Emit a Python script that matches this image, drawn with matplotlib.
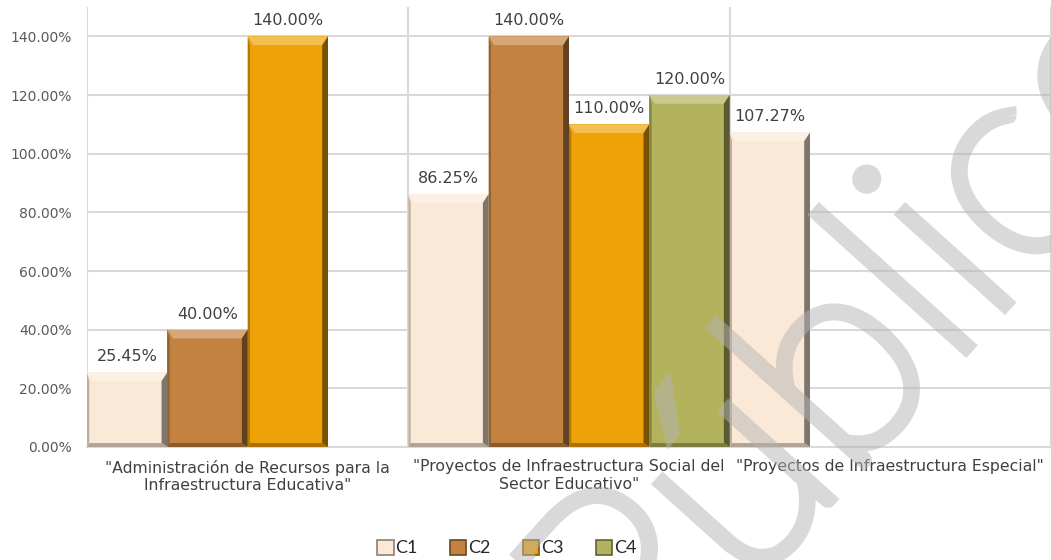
import numpy as np
import matplotlib
matplotlib.use('Agg')
import matplotlib.pyplot as plt
import matplotlib.patheffects as pe
from matplotlib.patches import Polygon, Rectangle
from matplotlib.colors import to_rgb

categories = ['"Administración de Recursos para la\nInfraestructura Educativa"',
              '"Proyectos de Infraestructura Social del\nSector Educativo"',
              '"Proyectos de Infraestructura Especial"']
series = ['C1', 'C2', 'C3', 'C4']
c1 = [0.2545, 0.8625, 1.0727]
c2 = [0.40, 1.40, np.nan]
c3 = [1.40, 1.10, np.nan]
c4 = [np.nan, 1.20, np.nan]
yticks = [0.0, 0.2, 0.4, 0.6, 0.8, 1.0, 1.2, 1.4]

COLORS = ['#FBE9D8', '#C3823F', '#EEA208', '#B3B25D']
GRID = '#d9d9d9'


def mix(c, other, t):
    c = np.array(to_rgb(c))
    o = np.array(to_rgb(other))
    return tuple(c * (1 - t) + o * t)


def bevel(ax, rect, color, dx, dy):
    # fake the excel "bevel" look from the bar geometry
    x0, y0 = rect.get_x(), rect.get_y()
    x1, y1 = x0 + rect.get_width(), y0 + rect.get_height()
    if rect.get_height() <= 0:
        return
    dy = min(dy, rect.get_height() / 3)
    db = dy * 0.45
    faces = [
        ([(x0, y1), (x1, y1), (x1 - dx, y1 - dy), (x0 + dx, y1 - dy)], mix(color, 'white', 0.3)),
        ([(x1, y1), (x1, y0), (x1 - dx, y0 + db), (x1 - dx, y1 - dy)], mix(color, 'black', 0.5)),
        ([(x0, y1), (x0, y0), (x0 + dx * 0.4, y0 + db), (x0 + dx * 0.4, y1 - dy)], mix(color, 'black', 0.25)),
        ([(x0, y0), (x1, y0), (x1 - dx, y0 + db), (x0 + dx * 0.4, y0 + db)], mix(color, 'black', 0.3)),
    ]
    for pts, fc in faces:
        ax.add_patch(Polygon(pts, closed=True, facecolor=fc, edgecolor='none', zorder=3))


def fade(img, dpi):
    # make the opaque watermark see-through, like the original
    img = img.copy()
    img[..., 3] *= 0.5
    return img, 0, 0


fig = plt.figure(figsize=(10.51, 5.60), dpi=100)
ax = fig.add_axes([87 / 1051, 1 - 447 / 560, 1 - 87 / 1051, 440 / 560])

x = np.arange(len(categories))
W = 0.25
data = [c1, c2, c3, c4]
for i, vals in enumerate(data):
    vals = np.array(vals, dtype=float)
    bars = ax.bar(x + (i - 1.5) * W, np.nan_to_num(vals), W, color=COLORS[i],
                  edgecolor='none', zorder=2)
    for b, v in zip(bars, vals):
        if np.isnan(v):
            continue
        bevel(ax, b, COLORS[i], 0.018, 0.03)
        ax.text(b.get_x() + b.get_width() / 2, v + 0.027, '{:.2f}%'.format(v * 100),
                ha='center', va='bottom', fontsize=11.5, color='#404040', zorder=5)

ax.set_xlim(-0.5, 2.5)
ax.set_ylim(0, 1.5)
ax.set_yticks(yticks)
ax.set_yticklabels(['{:.2f}%'.format(t * 100) for t in yticks], fontsize=10, color='#595959')
ax.set_xticks(x)
ax.set_xticklabels(categories, fontsize=11.3, color='#404040', linespacing=1.2)
ax.set_xticks(np.arange(-0.5, 2.6, 1), minor=True)
ax.tick_params(axis='both', which='both', length=0)
ax.tick_params(axis='x', pad=9)
ax.tick_params(axis='y', pad=11)
ax.grid(axis='y', color=GRID, lw=1.5, zorder=0)
ax.grid(axis='x', which='minor', color=GRID, lw=1.5, zorder=0)
for s in ['top', 'right', 'left']:
    ax.spines[s].set_visible(False)
ax.spines['bottom'].set_color(GRID)
ax.spines['bottom'].set_linewidth(1.5)

handles = [Rectangle((0, 0), 1, 1, facecolor=c, edgecolor=mix(c, 'black', 0.45), lw=1.2)
           for c in COLORS]
leg = fig.legend(handles=handles, labels=series, loc='center', bbox_to_anchor=(507 / 1051, 1 - 548 / 560),
                 ncol=4, frameon=False, prop={'family': 'Lato', 'size': 13},
                 handlelength=0.9, handleheight=0.9, handletextpad=0.1, columnspacing=1.8)
for t in leg.get_texts():
    t.set_color('#262626')

# watermark: thin font thickened with a stroke so it reads like the original
wm = fig.text(872 / 1051, 1 - 340 / 560, 'Público', rotation=48, ha='center', va='center',
              fontsize=200, family='Lato', fontweight=100, color='none', zorder=10)
wm.set_path_effects([pe.Stroke(linewidth=10, foreground='#b4b4b4', joinstyle='miter')])
wm.set_agg_filter(fade)

fig.savefig('out.png', dpi=100)
